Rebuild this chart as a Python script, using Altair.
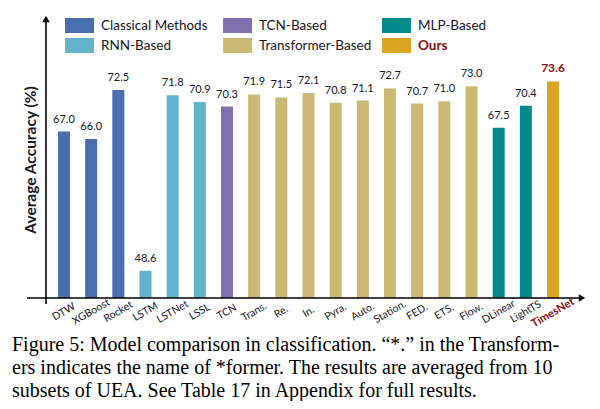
import altair as alt
import pandas as pd

# ---------------- data ----------------
models = ["DTW", "XGBoost", "Rocket", "LSTM", "LSTNet", "LSSL", "TCN",
          "Trans.", "Re.", "In.", "Pyra.", "Auto.", "Station.", "FED.", "ETS.", "Flow.",
          "DLinear", "LightTS", "TimesNet"]
accuracy = [67.0, 66.0, 72.5, 48.6, 71.8, 70.9, 70.3,
            71.9, 71.5, 72.1, 70.8, 71.1, 72.7, 70.7, 71.0, 73.0,
            67.5, 70.4, 73.6]
groups = (["Classical Methods"] * 3 + ["RNN-Based"] * 3 + ["TCN-Based"] +
          ["Transformer-Based"] * 9 + ["MLP-Based"] * 2 + ["Ours"])
group_names = ["Classical Methods", "RNN-Based", "TCN-Based",
               "Transformer-Based", "MLP-Based", "Ours"]
group_colors = ["#4a6eae", "#62b3cb", "#7f70ae", "#cab874", "#008b8a", "#daa520"]
highlight = "TimesNet"
y_title = "Average Accuracy (%)"
caption_lines = [
    "Figure 5: Model comparison in classification. \u201c*.\u201d in the Transform-",
    "ers indicates the name of *former. The results are averaged from 10",
    "subsets of UEA. See Table 17 in Appendix for full results.",
]

# ---------------- styles ----------------
FONT = "Lato"
SERIF = "Liberation Serif"
DARK = "#15151f"
RED = "#8b0a0a"
Y_MIN, Y_MAX = 45, 82.4

df = pd.DataFrame({"model": models, "acc": accuracy, "group": groups})

xscale = alt.Scale(domain=models, range=[42.4, 558.6], paddingInner=0, paddingOuter=0)
yscale = alt.Scale(domain=[Y_MIN, Y_MAX], range=[290, 7], zero=False)
X = alt.X("model:N", sort=models, scale=xscale, axis=None)

base = alt.Chart(df)

bars = base.mark_bar(width=12).encode(
    x=X,
    y=alt.Y("acc:Q", scale=yscale, axis=None),
    y2=alt.datum(Y_MIN),
    color=alt.Color("group:N", scale=alt.Scale(domain=group_names, range=group_colors), legend=None),
)

vals = base.transform_filter(alt.datum.model != highlight).mark_text(
    font=FONT, fontSize=11, baseline="bottom", dy=-7, color=DARK
).encode(x=X, y=alt.Y("acc:Q", scale=yscale, axis=None), text=alt.Text("acc:Q", format=".1f"))

vals_hi = base.transform_filter(alt.datum.model == highlight).mark_text(
    font=FONT, fontSize=12, fontWeight="bold", baseline="bottom", dy=-7, color=RED
).encode(x=X, y=alt.Y("acc:Q", scale=yscale, axis=None), text=alt.Text("acc:Q", format=".1f"))

xlab = base.transform_filter(alt.datum.model != highlight).mark_text(
    font=FONT, fontSize=10.5, angle=330, align="center", baseline="middle", color=DARK
).encode(x=X, y=alt.value(304), text="model:N")

xlab_hi = base.transform_filter(alt.datum.model == highlight).mark_text(
    font=FONT, fontSize=11, fontWeight="bold", angle=330, align="center", baseline="middle", color=RED
).encode(x=X, y=alt.value(305), text="model:N")

one = alt.Data(values=[{}])

yaxis = alt.Chart(one).mark_rule(color="black", strokeWidth=1.6).encode(
    x=alt.value(38), y=alt.value(13), y2=alt.value(296))
xaxis = alt.Chart(one).mark_rule(color="black", strokeWidth=1.6).encode(
    x=alt.value(19), x2=alt.value(572), y=alt.value(290))
yarrow = alt.Chart(one).mark_point(shape="triangle-up", filled=True, size=55, color="black", opacity=1).encode(
    x=alt.value(38), y=alt.value(11))
xarrow = alt.Chart(one).mark_point(shape="triangle-right", filled=True, size=55, color="black", opacity=1).encode(
    x=alt.value(574), y=alt.value(290))

ytitle = alt.Chart(one).mark_text(
    text=y_title, font=FONT, fontSize=15.5, fontWeight="bold", angle=270,
    align="center", baseline="middle", color=DARK
).encode(x=alt.value(23), y=alt.value(152))

# legend (3 columns x 2 rows)
legend_layers = []
col_x = [57, 215, 374]
row_y = [10, 30]
for i, (name, colr) in enumerate(zip(group_names, group_colors)):
    c, r = i // 2, i % 2
    sx, sy = col_x[c], row_y[r]
    legend_layers.append(alt.Chart(one).mark_rect(color=colr).encode(
        x=alt.value(sx), x2=alt.value(sx + 29), y=alt.value(sy), y2=alt.value(sy + 15)))
    is_ours = name == "Ours"
    legend_layers.append(alt.Chart(one).mark_text(
        text=name, font=FONT, fontSize=13.5, align="left", baseline="middle",
        fontWeight="bold" if is_ours else "normal", color=RED if is_ours else DARK
    ).encode(x=alt.value(sx + 36), y=alt.value(sy + 8)))

caption_layers = []
for j, line in enumerate(caption_lines):
    caption_layers.append(alt.Chart(one).mark_text(
        text=line, font=SERIF, fontSize=20, align="left", baseline="alphabetic", color="black"
    ).encode(x=alt.value(4), y=alt.value(343 + 23 * j)))

chart = alt.layer(
    bars, vals, vals_hi, xlab, xlab_hi, yaxis, xaxis, yarrow, xarrow, ytitle,
    *legend_layers, *caption_layers
).properties(
    width=584, height=393, autosize=alt.AutoSizeParams(type="none"), padding=0
).configure_view(stroke=None)

chart.save("out.html", embed_options={"renderer": "svg", "actions": False})
